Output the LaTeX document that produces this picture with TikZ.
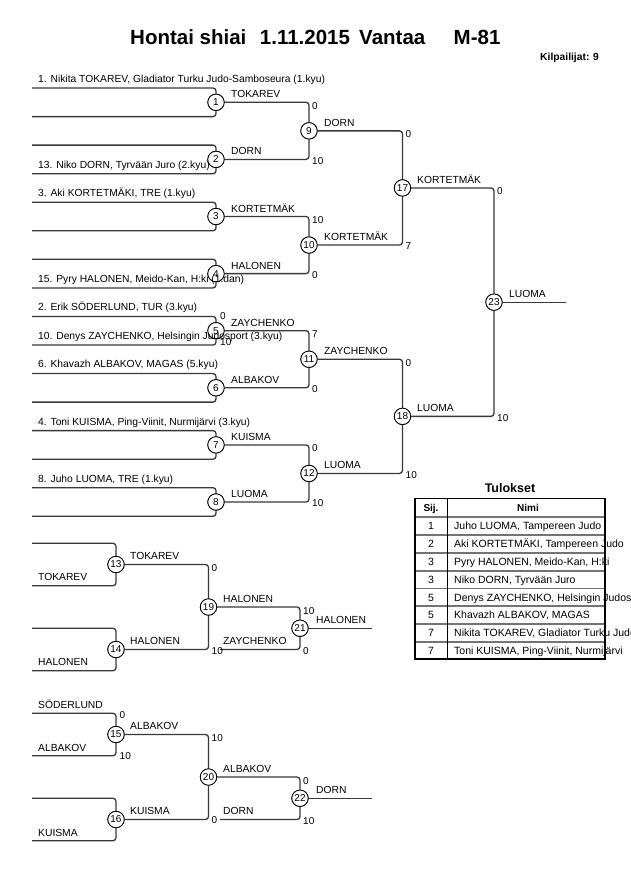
\documentclass[tikz,border=0pt]{standalone}
\usepackage{fontspec}
\setmainfont{Liberation Sans}
\begin{document}
\begin{tikzpicture}[x=1pt,y=-1pt,
  ln/.style={draw=black!78, line width=1.3pt, rounded corners=3pt},
  mc/.style={circle, draw=black, line width=0.8pt, fill=white, minimum size=16.4pt, inner sep=0pt, font=\fontsize{10}{12}\selectfont},
  tx/.style={anchor=base west, inner sep=0pt, font=\fontsize{10.3}{12}\selectfont},
  sc/.style={anchor=base west, inner sep=0pt, font=\fontsize{10}{12}\selectfont},
  ttl/.style={anchor=base west, inner sep=0pt, font=\bfseries\fontsize{20.5}{24}\selectfont},
  hd/.style={anchor=base, inner sep=0pt, font=\bfseries\fontsize{10}{12}\selectfont},
  rk/.style={anchor=base, inner sep=0pt, font=\fontsize{10.5}{12}\selectfont},
  rn/.style={anchor=base west, inner sep=0pt, font=\fontsize{10.5}{12}\selectfont},
  tabbox/.style={draw=black, line width=1.6pt},
  tabrule/.style={draw=black!55, line width=1.6pt},
  tabcol/.style={draw=black, line width=1.1pt}
]
\useasboundingbox (0,0) rectangle (630,891);
\clip (0,0) rectangle (630,891);

% title
\node[ttl] (ti1) at (130,45) {Hontai shiai};
\node[ttl] (ti2) at (259.7,45) {1.11.2015};
\node[ttl] (ti3) at (359,45) {Vantaa};
\node[ttl] (ti4) at (453.5,45) {M-81};
\node[anchor=base west, inner sep=0pt, font=\bfseries\fontsize{10.3}{12}\selectfont] (kil) at (540,60.7) {Kilpailijat: 9};

% ---------- main bracket ----------
\foreach \i/\t in {1/88,2/145.1,3/202.2,4/259.3,5/316.4,6/373.5,7/430.6,8/487.7}{
  \coordinate (a\i) at (32,\t);
  \coordinate (b\i) at (32,\t+28.6);
}
\foreach \i/\y in {1/102.3,2/159.4,3/216.5,4/273.6,5/330.7,6/387.8,7/444.9,8/502.0}
  \node[mc] (m\i) at (216,\y) {\i};
\foreach \i/\y in {9/130.85,10/245.05,11/359.25,12/473.45}
  \node[mc] (m\i) at (309,\y) {\i};
\node[mc] (m17) at (402.5,187.95) {17};
\node[mc] (m18) at (402.5,416.35) {18};
\node[mc] (m23) at (494,302.15) {23};
\coordinate (e23) at (566,302.15);

\foreach \i in {1,...,8}{
  \draw[ln] (a\i) -| (m\i);
  \draw[ln] (b\i) -| (m\i);
}
\draw[ln] (m1) -| (m9);  \draw[ln] (m2) -| (m9);
\draw[ln] (m3) -| (m10); \draw[ln] (m4) -| (m10);
\draw[ln] (m5) -| (m11); \draw[ln] (m6) -| (m11);
\draw[ln] (m7) -| (m12); \draw[ln] (m8) -| (m12);
\draw[ln] (m9) -| (m17); \draw[ln] (m10) -| (m17);
\draw[ln] (m11) -| (m18); \draw[ln] (m12) -| (m18);
\draw[ln] (m17) -| (m23); \draw[ln] (m18) -| (m23);
\draw[ln] (m23) -- (e23);

% redraw circles on top
\foreach \i/\y in {1/102.3,2/159.4,3/216.5,4/273.6,5/330.7,6/387.8,7/444.9,8/502.0}
  \node[mc] (mm\i) at (216,\y) {\i};
\foreach \i/\y in {9/130.85,10/245.05,11/359.25,12/473.45}
  \node[mc] (mm\i) at (309,\y) {\i};
\node[mc] (mm17) at (402.5,187.95) {17};
\node[mc] (mm18) at (402.5,416.35) {18};
\node[mc] (mm23) at (494,302.15) {23};

% winner labels
\node[tx] (w1) at (231,97.8) {TOKAREV};
\node[tx] (w2) at (231,154.9) {DORN};
\node[tx] (w3) at (231,212) {KORTETMÄK};
\node[tx] (w4) at (231,269.1) {HALONEN};
\node[tx] (w5) at (231,326.2) {ZAYCHENKO};
\node[tx] (w6) at (231,383.3) {ALBAKOV};
\node[tx] (w7) at (231,440.4) {KUISMA};
\node[tx] (w8) at (231,497.5) {LUOMA};
\node[tx] (w9) at (324,126.35) {DORN};
\node[tx] (w10) at (324,240.55) {KORTETMÄK};
\node[tx] (w11) at (324,354.75) {ZAYCHENKO};
\node[tx] (w12) at (324,468.95) {LUOMA};
\node[tx] (w17) at (417,183.45) {KORTETMÄK};
\node[tx] (w18) at (417,411.85) {LUOMA};
\node[tx] (w23) at (509,297.65) {LUOMA};

% scores
\node[sc] (s5a) at (220,319.5) {0};
\node[sc] (s5b) at (220,345.5) {10};
\node[sc] (s9a) at (312,109.3) {0};
\node[sc] (s9b) at (312,164.1) {10};
\node[sc] (s10a) at (312,223.5) {10};
\node[sc] (s10b) at (312,278.3) {0};
\node[sc] (s11a) at (312,337.7) {7};
\node[sc] (s11b) at (312,392.5) {0};
\node[sc] (s12a) at (312,451.9) {0};
\node[sc] (s12b) at (312,506.7) {10};
\node[sc] (s17a) at (405.5,137.85) {0};
\node[sc] (s17b) at (405.5,249.75) {7};
\node[sc] (s18a) at (405.5,366.25) {0};
\node[sc] (s18b) at (405.5,478.15) {10};
\node[sc] (s23a) at (497,194.95) {0};
\node[sc] (s23b) at (497,421.05) {10};

% player names
\node[tx] (n1) at (38,82.5) {1. Nikita TOKAREV, Gladiator Turku Judo-Samboseura (1.kyu)};
\node[tx] (n13) at (38,168.2) {13. Niko DORN, Tyrvään Juro (2.kyu)};
\node[tx] (n3) at (38,196.7) {3. Aki KORTETMÄKI, TRE (1.kyu)};
\node[tx] (n15) at (38,282.4) {15. Pyry HALONEN, Meido-Kan, H:ki (1.dan)};
\node[tx] (n2) at (38,310.9) {2. Erik SÖDERLUND, TUR (3.kyu)};
\node[tx] (n10) at (38,339.5) {10. Denys ZAYCHENKO, Helsingin Judosport (3.kyu)};
\node[tx] (n6) at (38,367) {6. Khavazh ALBAKOV, MAGAS (5.kyu)};
\node[tx] (n4) at (38,425.1) {4. Toni KUISMA, Ping-Viinit, Nurmijärvi (3.kyu)};
\node[tx] (n8) at (38,482.2) {8. Juho LUOMA, TRE (1.kyu)};

% ---------- repechage ----------
\foreach \i/\t in {13/543.3,14/628.3,15/713.3,16/798.3}{
  \coordinate (c\i) at (32,\t);
  \coordinate (d\i) at (32,\t+42.4);
}
\node[mc] (m13) at (116,564.5) {13};
\node[mc] (m14) at (116,649.5) {14};
\node[mc] (m15) at (116,734.5) {15};
\node[mc] (m16) at (116,819.5) {16};
\node[mc] (m19) at (208.5,607) {19};
\node[mc] (m20) at (208.5,777) {20};
\node[mc] (m21) at (300,628.25) {21};
\node[mc] (m22) at (300,798.25) {22};
\coordinate (fz) at (220,649.5);
\coordinate (fd) at (220,819.5);
\coordinate (e21) at (371.7,628.25);
\coordinate (e22) at (371.7,798.25);

\foreach \i in {13,14,15,16}{
  \draw[ln] (c\i) -| (m\i);
  \draw[ln] (d\i) -| (m\i);
}
\draw[ln] (m13) -| (m19); \draw[ln] (m14) -| (m19);
\draw[ln] (m15) -| (m20); \draw[ln] (m16) -| (m20);
\draw[ln] (m19) -| (m21); \draw[ln] (fz) -| (m21);
\draw[ln] (m20) -| (m22); \draw[ln] (fd) -| (m22);
\draw[ln] (m21) -- (e21);
\draw[ln] (m22) -- (e22);

\node[mc] (mm13) at (116,564.5) {13};
\node[mc] (mm14) at (116,649.5) {14};
\node[mc] (mm15) at (116,734.5) {15};
\node[mc] (mm16) at (116,819.5) {16};
\node[mc] (mm19) at (208.5,607) {19};
\node[mc] (mm20) at (208.5,777) {20};
\node[mc] (mm21) at (300,628.25) {21};
\node[mc] (mm22) at (300,798.25) {22};

\node[tx] (r13) at (38,580.5) {TOKAREV};
\node[tx] (r14) at (38,665.5) {HALONEN};
\node[tx] (r15a) at (38,708.7) {SÖDERLUND};
\node[tx] (r15b) at (38,751.2) {ALBAKOV};
\node[tx] (r16) at (38,836.7) {KUISMA};

\node[tx] (rw13) at (130,559.5) {TOKAREV};
\node[tx] (rw14) at (130,644.5) {HALONEN};
\node[tx] (rw15) at (130,729.5) {ALBAKOV};
\node[tx] (rw16) at (130,814.5) {KUISMA};
\node[tx] (rw19) at (223,602.5) {HALONEN};
\node[tx] (rfz) at (223,644.5) {ZAYCHENKO};
\node[tx] (rw21) at (316,623.5) {HALONEN};
\node[tx] (rw20) at (223,772.5) {ALBAKOV};
\node[tx] (rfd) at (223,814.5) {DORN};
\node[tx] (rw22) at (316,793.5) {DORN};

\node[sc] (rs15a) at (119.5,718.7) {0};
\node[sc] (rs15b) at (119.5,759.4) {10};
\node[sc] (rs19a) at (211.5,571.5) {0};
\node[sc] (rs19b) at (211.5,654.2) {10};
\node[sc] (rs21a) at (303,614) {10};
\node[sc] (rs21b) at (303,654.2) {0};
\node[sc] (rs20a) at (211.5,741.5) {10};
\node[sc] (rs20b) at (211.5,823.5) {0};
\node[sc] (rs22a) at (303,784.5) {0};
\node[sc] (rs22b) at (303,824.2) {10};

% ---------- results table ----------
\node[anchor=base, inner sep=0pt, font=\bfseries\fontsize{12.5}{14}\selectfont] (tul) at (510,492.8) {Tulokset};
\foreach \y in {516.7,535,552.7,570.7,588.3,606,624,641.7}
  \draw[tabrule] (415,\y) -- (605,\y);
\draw[tabcol] (447.3,498.3) -- (447.3,659);
\node[hd] (hs) at (431,511.5) {Sij.};
\node[hd] (hn) at (528,511.5) {Nimi};
\foreach \r/\y/\nm in {1/529.7/{Juho LUOMA, Tampereen Judo},
                       2/547.7/{Aki KORTETMÄKI, Tampereen Judo},
                       3/565.5/{Pyry HALONEN, Meido-Kan, H:ki},
                       3/583.3/{Niko DORN, Tyrvään Juro},
                       5/601/{Denys ZAYCHENKO, Helsingin Judosport},
                       5/618.8/{Khavazh ALBAKOV, MAGAS},
                       7/636.7/{Nikita TOKAREV, Gladiator Turku Judo-Samboseura},
                       7/654.2/{Toni KUISMA, Ping-Viinit, Nurmijärvi}}{
  \node[rk] at (431,\y) {\r};
  \node[rn] at (454,\y) {\nm};
}
\draw[tabbox] (415,498.3) rectangle (605,659);
\end{tikzpicture}
\end{document}
